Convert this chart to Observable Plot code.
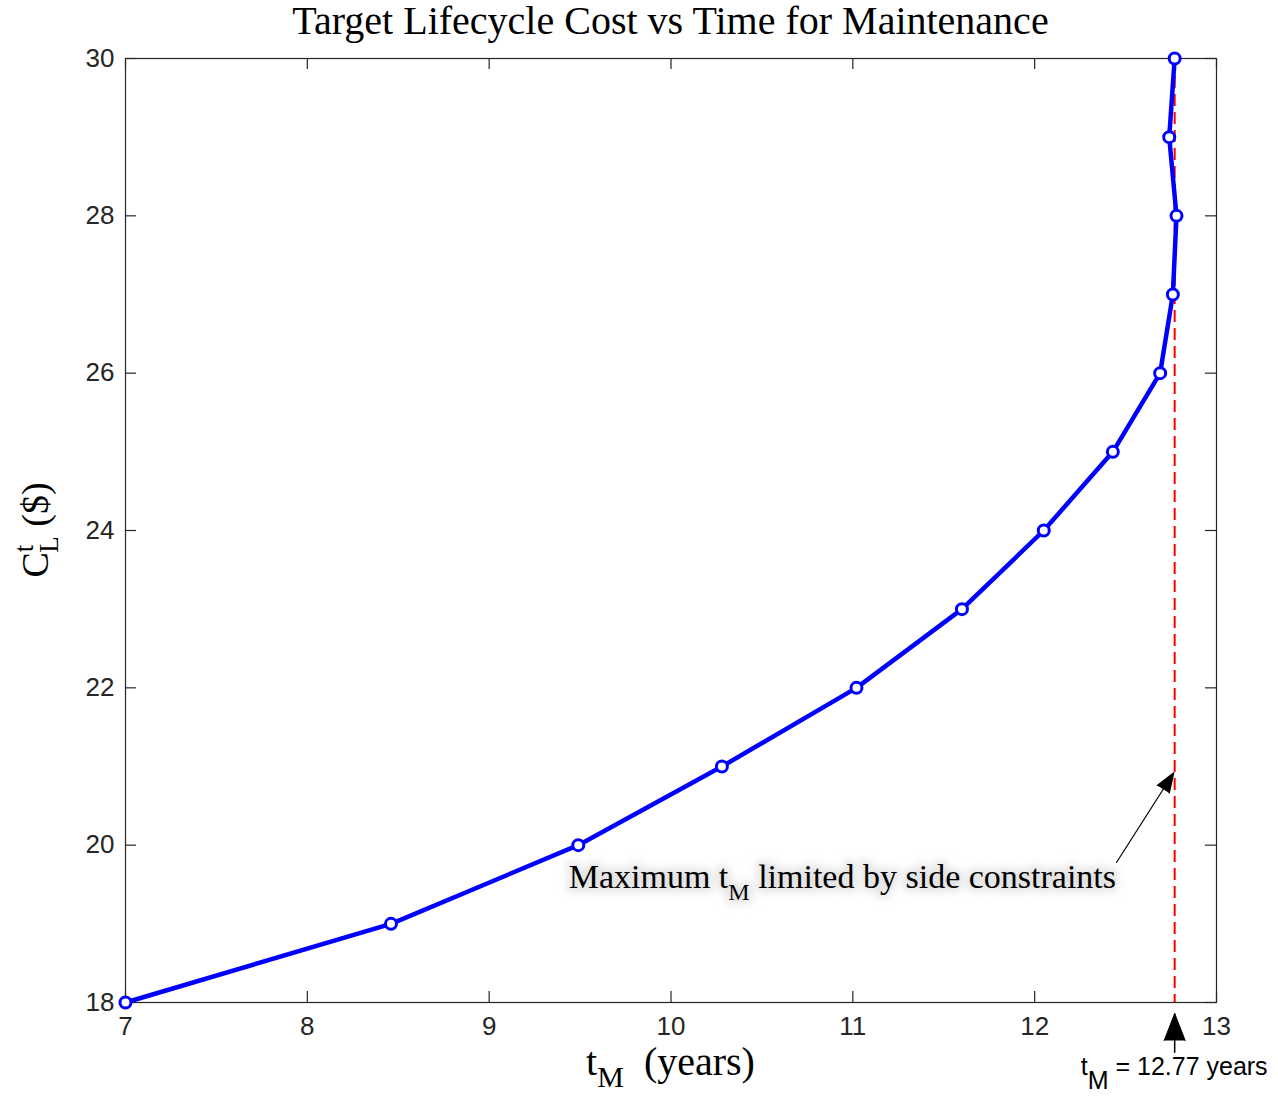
<!DOCTYPE html>
<html>
<head>
<meta charset="utf-8">
<script src="https://cdn.jsdelivr.net/npm/d3@7"></script>
<script src="https://cdn.jsdelivr.net/npm/@observablehq/plot@0.6"></script>
<style>
  html, body { margin: 0; padding: 0; background: #fff; }
  #chart svg { display: block; }
</style>
</head>
<body>
<div id="chart"></div>
<script>
// Target lifecycle cost (C_L^t, $) against time for maintenance (t_M, years)
const costTarget = [18, 19, 20, 21, 22, 23, 24, 25, 26, 27, 28, 29, 30];
const timeMaint  = [7.00, 8.46, 9.49, 10.28, 11.02, 11.60, 12.05, 12.43, 12.69, 12.76, 12.78, 12.74, 12.77];

// Side-constraint limit on t_M
const tLimit = 12.77;

// Axis ticks
const xTicks = [7, 8, 9, 10, 11, 12, 13];
const yTicks = [18, 20, 22, 24, 26, 28, 30];

// Annotation anchors (data units)
const noteText = ["Maximum t", "M", " limited by side constraints"];
const noteAt = [9.44, 19.45];
const noteArrowFrom = [12.45, 19.78];
const noteArrowTo = [12.765, 20.92];
const limitArrowFrom = [tLimit, 17.36];
const limitArrowTo = [tLimit, 17.86];
const limitLabelY = 17.07;

const points = costTarget.map((c, i) => ({t: timeMaint[i], c}));

const W = 1278, H = 1096;
const M = {top: 58, right: 62, bottom: 94, left: 125};
const innerW = W - M.left - M.right;
const innerH = H - M.top - M.bottom;
const tickLen = 11;
const ink = "#262626";
const sans = "'Liberation Sans', Arial, sans-serif";
const serif = "'Liberation Serif', 'Times New Roman', serif";

const chart = Plot.plot({
  width: W,
  height: H,
  marginTop: M.top,
  marginRight: M.right,
  marginBottom: M.bottom,
  marginLeft: M.left,
  x: {domain: [7, 13]},
  y: {domain: [18, 30]},
  style: {fontFamily: sans, fontSize: "26px", color: ink, background: "#fff", overflow: "visible"},
  marks: [
    Plot.frame({stroke: ink, strokeWidth: 1.2}),
    Plot.axisX({ticks: xTicks, tickFormat: "d", tickSize: 0, tickPadding: 14, label: null, fontSize: 26, fill: ink}),
    Plot.axisY({ticks: yTicks, tickFormat: "d", tickSize: 0, tickPadding: 11, label: null, fontSize: 26, fill: ink}),
    // inward ticks on all four sides
    Plot.ruleX(xTicks, {insetTop: innerH - tickLen, stroke: ink, strokeWidth: 1.2}),
    Plot.ruleX(xTicks, {insetBottom: innerH - tickLen, stroke: ink, strokeWidth: 1.2}),
    Plot.ruleY(yTicks, {insetRight: innerW - tickLen, stroke: ink, strokeWidth: 1.2}),
    Plot.ruleY(yTicks, {insetLeft: innerW - tickLen, stroke: ink, strokeWidth: 1.2}),
    // limit line
    Plot.ruleX([tLimit], {stroke: "#ff0000", strokeWidth: 2, strokeDasharray: "12,6"}),
    // lifecycle cost curve
    Plot.line(points, {x: "t", y: "c", stroke: "#0000ff", strokeWidth: 4.5, curve: "linear"}),
    Plot.dot(points, {x: "t", y: "c", r: 5.5, stroke: "#0000ff", strokeWidth: 3, fill: "#fff"}),
    // annotation arrow pointing at the limit line
    Plot.arrow([{}], {
      x1: () => noteArrowFrom[0], y1: () => noteArrowFrom[1],
      x2: () => noteArrowTo[0], y2: () => noteArrowTo[1],
      stroke: "#000", fill: "#000", strokeWidth: 1.2, headLength: 26, headAngle: 40
    }),
    // arrow under the axis marking the limit value: shaft + filled head
    Plot.link([{}], {
      x1: () => limitArrowFrom[0], y1: () => limitArrowFrom[1],
      x2: () => limitArrowTo[0], y2: () => limitArrowTo[1],
      stroke: "#000", strokeWidth: 1.5, clip: false
    }),
    Plot.vector([{}], {
      x: () => limitArrowTo[0], y: () => limitArrowTo[1],
      anchor: "end", shape: "spike", length: 27, r: 10.5, rotate: 0,
      fill: "#000", stroke: "#000", strokeWidth: 1, clip: false
    })
  ]
});

document.getElementById("chart").appendChild(chart);

const sx = chart.scale("x"), sy = chart.scale("y");
const svg = d3.select(chart);

// Soft halo used behind the side-constraint note
const defs = svg.append("defs");
defs.append("filter").attr("id", "note-halo")
  .attr("x", "-5%").attr("y", "-40%").attr("width", "110%").attr("height", "180%")
  .append("feGaussianBlur").attr("stdDeviation", 4);

// Title
svg.append("text")
  .attr("x", (sx.apply(7) + sx.apply(13)) / 2)
  .attr("y", 34)
  .attr("text-anchor", "middle")
  .attr("font-family", serif)
  .attr("font-size", 40)
  .attr("fill", "#000")
  .text("Target Lifecycle Cost vs Time for Maintenance");

// Helper for text with a subscript / superscript run
function richText(sel, parts) {
  parts.forEach(p => {
    const ts = sel.append("tspan").text(p.text);
    if (p.size) ts.attr("font-size", p.size);
    if (p.dy) ts.attr("dy", p.dy);
    if (p.dx) ts.attr("dx", p.dx);
  });
  return sel;
}

// x-axis label
richText(
  svg.append("text")
    .attr("x", (sx.apply(7) + sx.apply(13)) / 2)
    .attr("y", 1075)
    .attr("text-anchor", "middle")
    .attr("font-family", serif)
    .attr("font-size", 40)
    .attr("fill", "#000")
    .attr("xml:space", "preserve"),
  [
    {text: "t"},
    {text: "M", size: 30, dy: 12},
    {text: "  (years)", dy: -12}
  ]
);

// y-axis label (rotated)
richText(
  svg.append("text")
    .attr("transform", `translate(48,${(sy.apply(18) + sy.apply(30)) / 2}) rotate(-90)`)
    .attr("text-anchor", "middle")
    .attr("font-family", serif)
    .attr("font-size", 38)
    .attr("fill", "#000")
    .attr("xml:space", "preserve"),
  [
    {text: "C"},
    {text: "t", size: 27, dy: -15},
    {text: "L", size: 27, dx: -8, dy: 25},
    {text: " ($)", dy: -10}
  ]
);

// side-constraint note
const noteParts = [
  {text: noteText[0]},
  {text: noteText[1], size: 24, dy: 12},
  {text: noteText[2], dy: -12}
];
const noteG = svg.append("g");
richText(
  noteG.append("text")
    .attr("x", sx.apply(noteAt[0]))
    .attr("y", sy.apply(noteAt[1]))
    .attr("text-anchor", "start")
    .attr("font-family", serif)
    .attr("font-size", 34)
    .attr("fill", "#fff")
    .attr("stroke", "#d8d8d8")
    .attr("stroke-width", 7)
    .attr("stroke-linejoin", "round")
    .attr("opacity", 0.7)
    .attr("filter", "url(#note-halo)")
    .attr("xml:space", "preserve"),
  noteParts
);
richText(
  noteG.append("text")
    .attr("x", sx.apply(noteAt[0]))
    .attr("y", sy.apply(noteAt[1]))
    .attr("text-anchor", "start")
    .attr("font-family", serif)
    .attr("font-size", 34)
    .attr("fill", "#000")
    .attr("xml:space", "preserve"),
  noteParts
);

// limit value label
richText(
  svg.append("text")
    .attr("x", sx.apply(tLimit))
    .attr("y", sy.apply(limitLabelY))
    .attr("text-anchor", "middle")
    .attr("font-family", sans)
    .attr("font-size", 25)
    .attr("fill", "#000")
    .attr("xml:space", "preserve"),
  [
    {text: "t"},
    {text: "M", size: 25, dy: 14},
    {text: " = " + tLimit.toFixed(2) + " years", dy: -14}
  ]
);
</script>
</body>
</html>
